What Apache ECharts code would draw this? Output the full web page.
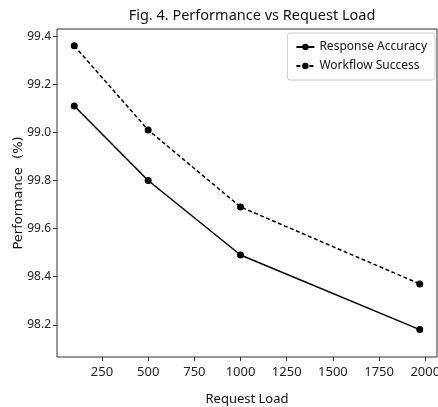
<!DOCTYPE html>
<html style="height: 100%">
<head>
    <meta charset="utf-8">
</head>
<body style="height: 100%; margin: 0; background-color: #fff;">
<div id="container" style="width: 438px; height: 407px"></div>
<script type="text/javascript" src="https://cdn.jsdelivr.net/npm/echarts@6/dist/echarts.min.js"></script>
<script type="text/javascript">
    // request load (x) and the two series
    var requestLoad = [100, 500, 1000, 1970];
    var responseAccuracy = [99.11, 98.80, 98.49, 98.18];
    var workflowSuccess = [99.36, 99.01, 98.69, 98.37];

    // tick positions and the labels printed at them (as in the original figure)
    var xTicks = [250, 500, 750, 1000, 1250, 1500, 1750, 2000];
    var yTicks = [98.2, 98.4, 98.6, 98.8, 99.0, 99.2, 99.4];
    var yTickLabels = ['98.2', '98.4', '99.6', '99.8', '99.0', '99.2', '99.4'];

    function pairs(xs, ys) {
        return xs.map(function (x, i) { return [x, ys[i]]; });
    }

    var font = 'Noto Sans';
    var dom = document.getElementById('container');
    var myChart = echarts.init(dom);

    var option = {
        backgroundColor: '#fff',
        animation: false,
        title: {
            text: 'Fig. 4. Performance vs Request Load',
            left: 247,
            textAlign: 'center',
            top: 3,
            textStyle: { fontFamily: font, fontSize: 14.5, fontWeight: 'normal', color: '#111' }
        },
        legend: {
            orient: 'vertical',
            right: 3,
            top: 33,
            padding: [8, 8, 8, 8],
            itemGap: 7,
            itemWidth: 18,
            itemHeight: 8,
            borderColor: '#ccc',
            borderWidth: 1,
            borderRadius: 3,
            textStyle: { fontFamily: font, fontSize: 12, color: '#111' },
            data: ['Response Accuracy', 'Workflow Success']
        },
        grid: {
            left: 57,
            right: 1,
            top: 29,
            bottom: 50,
            outerBoundsMode: 'none',
            show: true,
            borderColor: '#333',
            borderWidth: 1
        },
        xAxis: {
            type: 'value',
            min: 6.5,
            max: 2063.5,
            name: 'Request Load',
            nameLocation: 'middle',
            nameGap: 36,
            nameMoveOverlap: false,
            nameTextStyle: { fontFamily: font, fontSize: 13, color: '#111' },
            axisLine: { show: false },
            splitLine: { show: false },
            axisTick: { show: true, length: 4, lineStyle: { color: '#333' }, customValues: xTicks },
            axisLabel: {
                fontFamily: font, fontSize: 13, color: '#222', margin: 9,
                customValues: xTicks,
                formatter: function (v) { return String(v); }
            }
        },
        yAxis: {
            type: 'value',
            min: 98.066,
            max: 99.43,
            name: 'Performance  (%)',
            nameLocation: 'middle',
            nameGap: 32,
            nameMoveOverlap: false,
            nameTextStyle: { fontFamily: 'DejaVu Sans', fontSize: 13, color: '#111' },
            axisLine: { show: false },
            splitLine: { show: false },
            axisTick: { show: true, length: 4, lineStyle: { color: '#333' }, customValues: yTicks },
            axisLabel: {
                fontFamily: font, fontSize: 12, color: '#222', margin: 6,
                customValues: yTicks,
                formatter: function (v) {
                    for (var i = 0; i < yTicks.length; i++) {
                        if (Math.abs(yTicks[i] - v) < 1e-6) return yTickLabels[i];
                    }
                    return '';
                }
            }
        },
        series: [
            {
                name: 'Response Accuracy',
                type: 'line',
                data: pairs(requestLoad, responseAccuracy),
                symbol: 'circle',
                symbolSize: 7,
                itemStyle: { color: '#000' },
                lineStyle: { color: '#000', width: 1.5 }
            },
            {
                name: 'Workflow Success',
                type: 'line',
                data: pairs(requestLoad, workflowSuccess),
                symbol: 'circle',
                symbolSize: 7,
                itemStyle: { color: '#000' },
                lineStyle: { color: '#000', width: 1.5, type: [4, 2.5] }
            }
        ]
    };
    myChart.setOption(option);
</script>
</body>
</html>
